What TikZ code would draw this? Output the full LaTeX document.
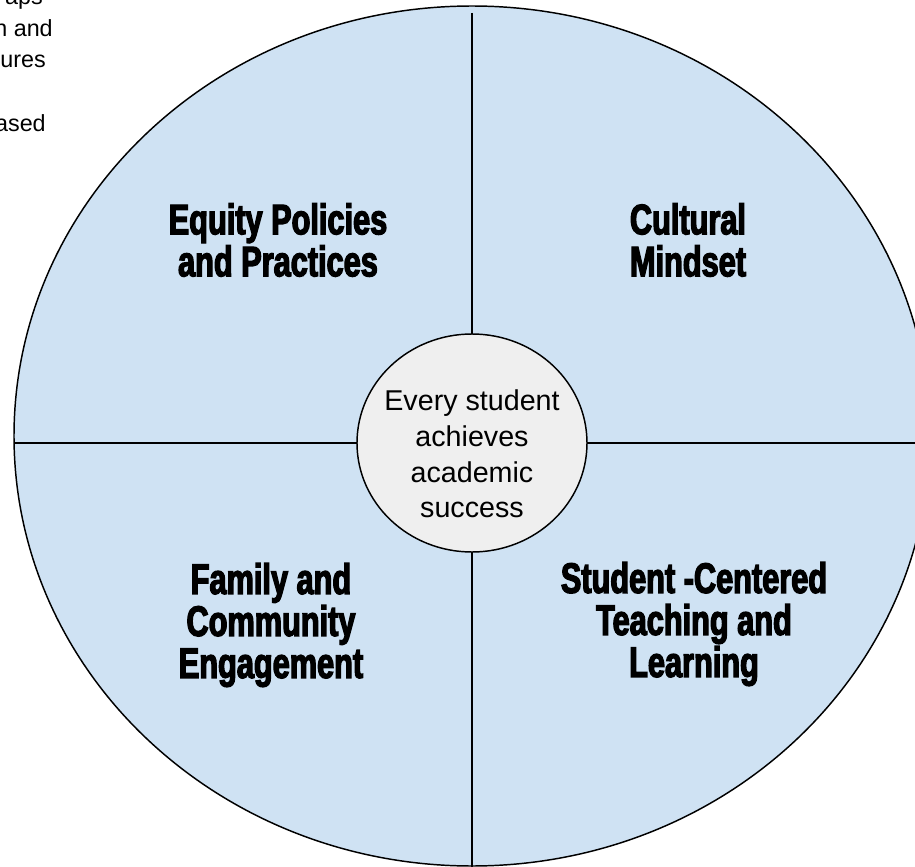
\documentclass[tikz,border=0pt]{standalone}
\usepackage{fontspec}
\setmainfont{Liberation Sans}
\newfontfamily\titlefont[FakeStretch=0.72,FakeBold=3]{Liberation Sans Bold}
\usetikzlibrary{shapes.geometric}
\definecolor{paneblue}{HTML}{CFE2F3}
\definecolor{hubgray}{HTML}{EFEFEF}
\begin{document}
\begin{tikzpicture}[x=0.75pt,y=-0.75pt,
  title/.style={font=\titlefont\fontsize{32}{31.5}\selectfont, align=center, inner sep=0pt},
  note/.style={font=\fontsize{17.5}{24}\selectfont, anchor=base east, inner sep=0pt},
  divider/.style={line width=1.5pt, black}]
\useasboundingbox (0,0) rectangle (915,867);
\clip (0,0) rectangle (915,867);
\draw[fill=paneblue, line width=1.1pt] (472,436) ellipse [x radius=343.5pt, y radius=322.5pt];
\coordinate (vtop) at (472,13);
\coordinate (vbot) at (472,867);
\coordinate (hleft) at (14.1,443);
\coordinate (hright) at (916,443);
\draw[divider] (vtop) -- (vbot);
\draw[divider] (hleft) -- (hright);
\node[ellipse, draw, line width=1.1pt, fill=hubgray, minimum width=172.5pt, minimum height=163.5pt, inner sep=0pt] (hub) at (472,443) {};
\node[align=center, inner sep=0pt, font=\fontsize{21.5}{26.8}\selectfont] (hubtext) at (472,454) {Every student\\achieves\\academic\\success};
\node[title] (equity) at (278,240) {Equity Policies\\and Practices};
\node[title] (culture) at (688,240) {Cultural\\Mindset};
\node[title] (family) at (271,625) {Family and\\Community\\Engagement};
\node[title] (student) at (694,624) {Student -Centered\\Teaching and\\Learning};
\node[note] (n1) at (43,5) {aps};
\node[note] (n2) at (53,37) {n and};
\node[note] (n3) at (46,68) {ures};
\node[note] (n4) at (46,132) {ased};
\end{tikzpicture}
\end{document}
